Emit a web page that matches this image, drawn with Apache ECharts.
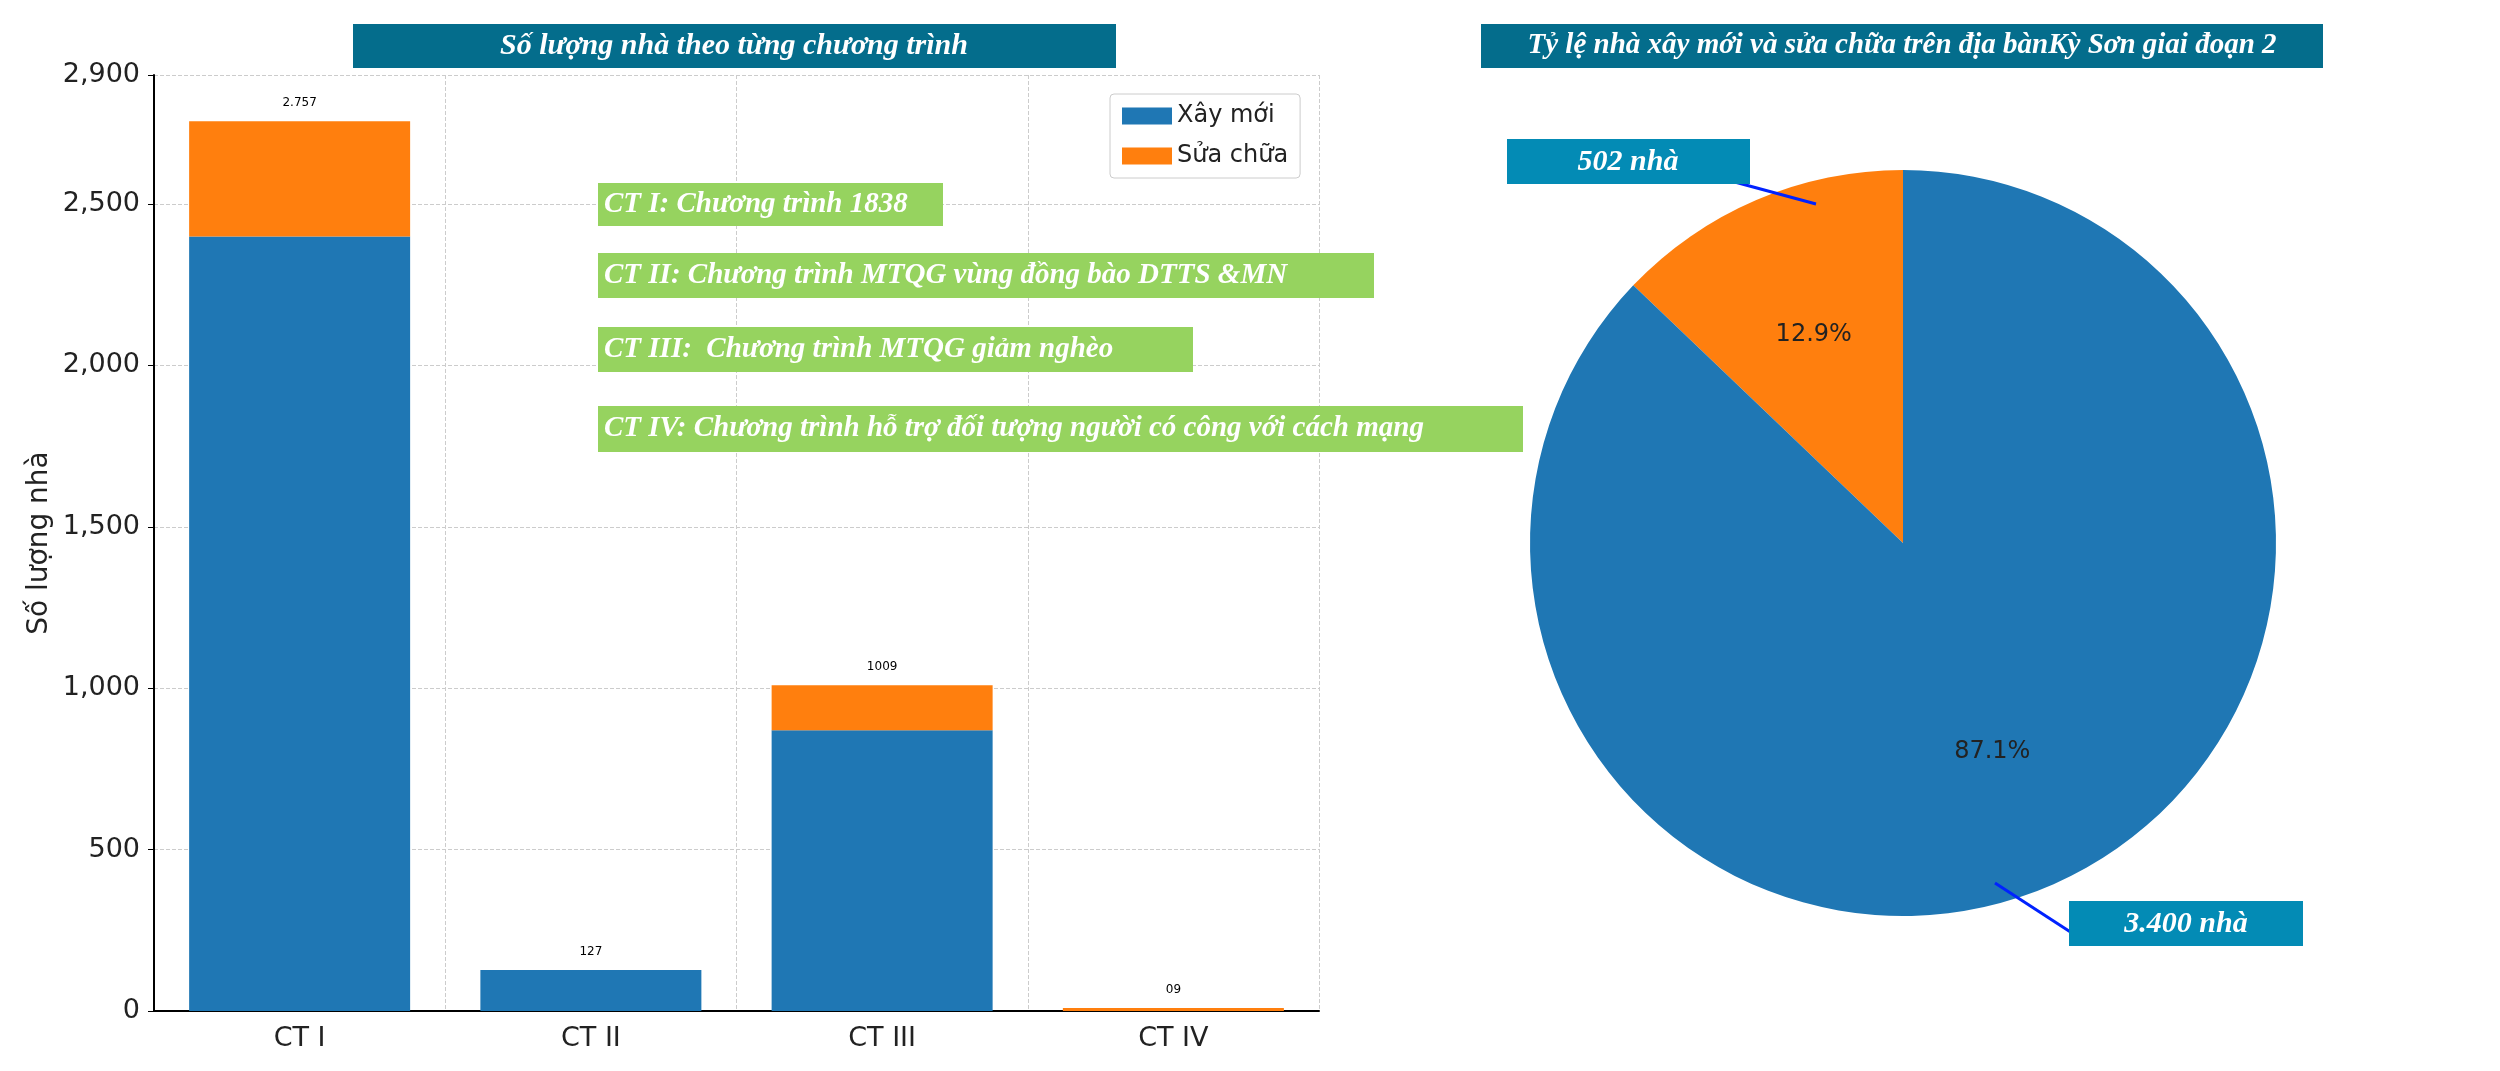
<!DOCTYPE html>
<html><head><meta charset="utf-8">
<script src="https://cdn.jsdelivr.net/npm/echarts@6/dist/echarts.min.js"></script>
<style>html,body{margin:0;padding:0;background:#fff}#c{width:2500px;height:1071px}</style>
</head><body><div id="c"></div>
<script>
const categories = ['CT I', 'CT II', 'CT III', 'CT IV'];
const newBuild = [2400, 127, 870, 0];
const repair = [357, 0, 139, 9];
const totalLabels = ['2.757', '127', '1009', '09'];
const pieNames = ['Sửa chữa', 'Xây mới'];
const pieValues = [502, 3400];
const notes = ['CT I: Chương trình 1838', 'CT II: Chương trình MTQG vùng đồng bào DTTS &MN', 'CT III:  Chương trình MTQG giảm nghèo', 'CT IV: Chương trình hỗ trợ đối tượng người có công với cách mạng'];

const chart = echarts.init(document.getElementById('c'));
const serif = '"Liberation Serif", "DejaVu Serif", serif';
const noteBoxes = [[598,183,345,43],[598,253,776,45],[598,327,595,45],[598,406,925,46]];
const graphics = [];
// titles
graphics.push({type:'rect',shape:{x:353,y:24,width:763,height:44},style:{fill:'#046d8c'}});
graphics.push({type:'text',x:734,y:46,style:{text:'Số lượng nhà theo từng chương trình',fill:'#fff',font:'italic bold 30px '+serif,align:'center',verticalAlign:'middle'}});
graphics.push({type:'rect',shape:{x:1481,y:24,width:842,height:44},style:{fill:'#046d8c'}});
graphics.push({type:'text',x:1902,y:46,style:{text:'Tỷ lệ nhà xây mới và sửa chữa trên địa bànKỳ Sơn giai đoạn 2',fill:'#fff',font:'italic bold 29px '+serif,align:'center',verticalAlign:'middle'}});
notes.forEach((t,i)=>{const b=noteBoxes[i];
 graphics.push({type:'rect',z:50,shape:{x:b[0],y:b[1],width:b[2],height:b[3]},style:{fill:'#96d35f'}});
 graphics.push({type:'text',z:51,x:b[0]+6,y:b[1]+b[3]/2,style:{text:t,fill:'#fff',font:'italic bold 29px '+serif,verticalAlign:'middle'}});
});
// pie callouts
graphics.push({type:'line',z:50,shape:{x1:1731,y1:181,x2:1816,y2:204},style:{stroke:'#0022ff',lineWidth:3}});
graphics.push({type:'line',z:50,shape:{x1:1995,y1:883,x2:2072,y2:933},style:{stroke:'#0022ff',lineWidth:3}});
graphics.push({type:'rect',z:50,shape:{x:1507,y:139,width:243,height:45},style:{fill:'#038bb5'}});
graphics.push({type:'text',z:51,x:1628,y:162,style:{text:pieValues[0]+' nhà',fill:'#fff',font:'italic bold 30px '+serif,align:'center',verticalAlign:'middle'}});
graphics.push({type:'rect',z:50,shape:{x:2069,y:901,width:234,height:45},style:{fill:'#038bb5'}});
graphics.push({type:'text',z:51,x:2186,y:924,style:{text:'3.400 nhà',fill:'#fff',font:'italic bold 30px '+serif,align:'center',verticalAlign:'middle'}});

chart.setOption({
 animation:false,
 textStyle:{fontFamily:'"DejaVu Sans", sans-serif'},
 legend:{orient:'vertical',left:1110,top:94,itemWidth:50,itemHeight:17,itemGap:16,
   data:['Xây mới','Sửa chữa'],textStyle:{fontSize:24,color:'#222'},
   padding:[10,12],borderColor:'#ccc',borderWidth:1,borderRadius:4,backgroundColor:'#fff',icon:'rect'},
 grid:{left:154,top:75,width:1165,height:936},
 xAxis:{type:'category',data:categories,
   axisLine:{lineStyle:{color:'#000',width:2}},axisTick:{alignWithLabel:true,length:6,lineStyle:{color:'#000'}},
   axisLabel:{fontSize:27,color:'#222',margin:14},
   splitLine:{show:true,interval:0,lineStyle:{type:'dashed',color:'#ccc'}}},
 yAxis:{type:'value',min:0,max:2900,interval:500,name:'Số lượng nhà',nameLocation:'middle',nameGap:100,
   nameTextStyle:{fontSize:28,color:'#222'},
   axisLine:{show:true,lineStyle:{color:'#000',width:2}},axisTick:{show:true,length:6,lineStyle:{color:'#000'}},
   axisLabel:{fontSize:27,color:'#222',margin:14},
   splitLine:{lineStyle:{type:'dashed',color:'#ccc'}}},
 series:[
  {name:'Xây mới',type:'bar',stack:'a',data:newBuild,barWidth:221,itemStyle:{color:'#1f77b4'}},
  {name:'Sửa chữa',type:'bar',stack:'a',data:repair,barWidth:221,itemStyle:{color:'#ff7f0e'},
   label:{show:true,position:'top',distance:12,
     formatter:p=>totalLabels[p.dataIndex],
     font:'italic bold 30px '+serif,color:'#000'}},
  {type:'pie',center:[1903,543],radius:[0,373],clockwise:false,startAngle:90,
   data:pieNames.map((n,i)=>({name:n,value:pieValues[i]})),
   itemStyle:{color:p=>p.dataIndex===0?'#ff7f0e':'#1f77b4',borderWidth:0},
   label:{show:false},labelLine:{show:false},emphasis:{disabled:true},silent:true},
  {type:'pie',center:[1903,543],radius:[0,448],clockwise:false,startAngle:90,
   data:pieNames.map((n,i)=>({name:n,value:pieValues[i]})),
   itemStyle:{color:'transparent'},silent:true,emphasis:{disabled:true},
   label:{show:true,position:'inside',formatter:p=>p.percent.toFixed(1)+'%',fontSize:24,color:'#222'},labelLine:{show:false}}
 ],
 graphic:graphics
});
</script></body></html>
